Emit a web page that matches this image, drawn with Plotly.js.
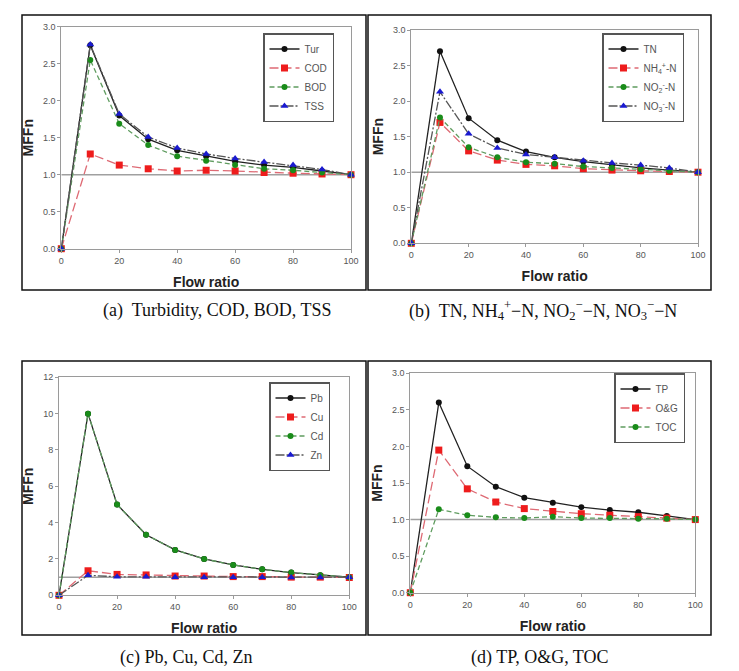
<!DOCTYPE html>
<html>
<head>
<meta charset="utf-8">
<script src="https://cdn.plot.ly/plotly-3.0.1.min.js"></script>
<style>
  html, body { margin: 0; padding: 0; background: #fff; }
  #chart { width: 739px; height: 671px; }
</style>
</head>
<body>
<div id="chart"></div>
<script>
// ---------- DATA ----------
const flowRatio = [0, 10, 20, 30, 40, 50, 60, 70, 80, 90, 100];

// (a)
const tur = [0, 2.75, 1.80, 1.48, 1.33, 1.25, 1.18, 1.13, 1.10, 1.05, 1.00];
const cod = [0, 1.28, 1.13, 1.08, 1.05, 1.06, 1.05, 1.03, 1.02, 1.01, 1.00];
const bod = [0, 2.55, 1.69, 1.40, 1.25, 1.19, 1.13, 1.08, 1.06, 1.03, 1.00];
const tss = [0, 2.76, 1.82, 1.51, 1.36, 1.28, 1.22, 1.17, 1.13, 1.07, 1.00];

// (b)
const tn  = [0, 2.70, 1.76, 1.45, 1.29, 1.21, 1.15, 1.10, 1.06, 1.03, 1.00];
const nh4 = [0, 1.70, 1.30, 1.17, 1.11, 1.09, 1.05, 1.03, 1.02, 1.01, 1.00];
const no2 = [0, 1.77, 1.35, 1.21, 1.14, 1.12, 1.08, 1.06, 1.04, 1.02, 1.00];
const no3 = [0, 2.13, 1.54, 1.34, 1.25, 1.21, 1.16, 1.13, 1.10, 1.06, 1.00];

// (c)
const pb = [0, 10.0, 5.00, 3.33, 2.50, 2.00, 1.67, 1.43, 1.25, 1.11, 1.00];
const cu = [0, 1.35, 1.15, 1.12, 1.06, 1.06, 1.03, 1.03, 1.00, 1.00, 0.98];
const cd = [0, 10.0, 5.00, 3.33, 2.50, 2.00, 1.67, 1.43, 1.25, 1.11, 1.00];
const zn = [0, 1.10, 1.02, 1.02, 1.00, 1.00, 1.00, 1.00, 0.98, 0.98, 1.00];

// (d)
const tp  = [0, 2.60, 1.73, 1.45, 1.30, 1.23, 1.17, 1.13, 1.10, 1.05, 1.00];
const og  = [0, 1.95, 1.42, 1.24, 1.15, 1.11, 1.08, 1.06, 1.04, 1.02, 1.00];
const toc = [0, 1.14, 1.06, 1.03, 1.02, 1.04, 1.02, 1.02, 1.01, 1.01, 1.00];

const namesA = ['Tur', 'COD', 'BOD', 'TSS'];
const namesB = ['TN', 'NH<sub>4</sub><sup>+</sup>-N', 'NO<sub>2</sub><sup>-</sup>-N', 'NO<sub>3</sub><sup>-</sup>-N'];
const namesC = ['Pb', 'Cu', 'Cd', 'Zn'];
const namesD = ['TP', 'O&amp;G', 'TOC'];

const captions = [
  '(a)  Turbidity, COD, BOD, TSS',
  '(b)  TN, NH<sub>4</sub><sup>+</sup>\u2212N, NO<sub>2</sub><sup>\u2212</sup>\u2212N, NO<sub>3</sub><sup>\u2212</sup>\u2212N',
  '(c) Pb, Cu, Cd, Zn',
  '(d) TP, O&amp;G, TOC'
];

const refLevel = 1.0;
const xTitle = 'Flow ratio';
const yTitle = 'MFFn';

// ---------- STYLES ----------
const styles = [
  { line: { color: '#222222', width: 1.3, dash: 'solid' },       marker: { symbol: 'circle', color: '#111111', size: 6 } },
  { line: { color: '#de6a74', width: 1.3, dash: '9px,4px' },     marker: { symbol: 'square', color: '#ee1c1c', size: 7 } },
  { line: { color: '#5f9c5f', width: 1.3, dash: '5px,3px' },     marker: { symbol: 'circle', color: '#1a8c1a', size: 6 } },
  { line: { color: '#555555', width: 1.3, dash: '9px,2px,2px,2px' }, marker: { symbol: 'triangle-up', color: '#1a1ad0', size: 7 } }
];

const panels = [
  { series: [tur, cod, bod, tss], names: namesA, yMax: 3, dtick: 0.5, fmt: '.1f',
    dom: { x: [61.3, 351], y: [26.7, 248.7] }, leg: [263, 33] },
  { series: [tn, nh4, no2, no3], names: namesB, yMax: 3, dtick: 0.5, fmt: '.1f',
    dom: { x: [411.3, 698], y: [30, 243.3] }, leg: [602, 33] },
  { series: [pb, cu, cd, zn], names: namesC, yMax: 12, dtick: 2, fmt: 'd',
    dom: { x: [59, 349.3], y: [377.3, 595.3] }, leg: [269, 382] },
  { series: [tp, og, toc], names: namesD, yMax: 3, dtick: 0.5, fmt: '.1f',
    dom: { x: [410.3, 695.3], y: [373.3, 592.7] }, leg: [614, 373] }
];

const W = 739, H = 671;
const px = v => v / W;
const py = v => 1 - v / H;

const traces = [];
const layout = {
  width: W, height: H,
  margin: { l: 0, r: 0, t: 0, b: 0 },
  paper_bgcolor: '#ffffff',
  plot_bgcolor: '#ffffff',
  showlegend: true,
  font: { family: 'Liberation Sans, Arial, sans-serif', color: '#444' },
  shapes: [],
  annotations: []
};

panels.forEach((p, i) => {
  const n = i + 1;
  const xa = n === 1 ? 'x' : 'x' + n;
  const ya = n === 1 ? 'y' : 'y' + n;
  const legName = n === 1 ? 'legend' : 'legend' + n;

  p.series.forEach((ys, k) => {
    traces.push({
      type: 'scatter', mode: 'lines+markers',
      x: flowRatio, y: ys, name: p.names[k],
      xaxis: xa, yaxis: ya, legend: legName,
      line: styles[k].line, marker: styles[k].marker,
      cliponaxis: false
    });
  });

  const axCommon = {
    showgrid: false, zeroline: false,
    showline: true, mirror: true, linecolor: '#9a9a9a', linewidth: 1,
    ticks: 'outside', ticklen: 3, tickcolor: '#9a9a9a', tickwidth: 1,
    tickfont: { size: 9, color: '#555', family: 'Liberation Sans, Arial, sans-serif' }
  };
  layout['xaxis' + (n === 1 ? '' : n)] = Object.assign({}, axCommon, {
    domain: [px(p.dom.x[0]), px(p.dom.x[1])],
    anchor: ya, range: [0, 100], dtick: 20, tick0: 0,
    title: { text: '<b>' + xTitle + '</b>', font: { size: 14, color: '#222' }, standoff: 12 }
  });
  layout['yaxis' + (n === 1 ? '' : n)] = Object.assign({}, axCommon, {
    domain: [py(p.dom.y[1]), py(p.dom.y[0])],
    anchor: xa, range: [0, p.yMax], dtick: p.dtick, tick0: 0, tickformat: p.fmt,
    title: { text: '<b>' + yTitle + '</b>', font: { size: 14, color: '#222' }, standoff: 6 }
  });

  layout[legName] = {
    x: px(p.leg[0]), y: py(p.leg[1]), xanchor: 'left', yanchor: 'top',
    xref: 'paper', yref: 'paper',
    bgcolor: '#ffffff', bordercolor: '#555', borderwidth: 1.5,
    font: { size: 10, color: '#555', family: 'Liberation Sans, Arial, sans-serif' },
    tracegroupgap: 0, itemwidth: 30
  };

  // reference line at MFFn = 1
  layout.shapes.push({
    type: 'line', xref: xa, yref: ya, x0: 0, x1: 100, y0: refLevel, y1: refLevel,
    line: { color: '#a0a0a0', width: 1.5 }, layer: 'below'
  });
});

// outer panel frames
const frames = [[22, 15, 366, 290], [368, 15, 711, 290], [22, 361, 366, 635], [368, 361, 711, 635]];
frames.forEach(f => {
  layout.shapes.push({
    type: 'rect', xref: 'paper', yref: 'paper',
    x0: px(f[0]), x1: px(f[2]), y0: py(f[3]), y1: py(f[1]),
    line: { color: '#111', width: 1.5 }, fillcolor: 'rgba(0,0,0,0)', layer: 'below'
  });
});

// captions
const capPos = [[217, 310], [543, 310], [186, 657], [540, 657]];
captions.forEach((c, i) => {
  layout.annotations.push({
    xref: 'paper', yref: 'paper', x: px(capPos[i][0]), y: py(capPos[i][1]),
    xanchor: 'center', yanchor: 'middle', showarrow: false, text: c,
    font: { family: 'Liberation Serif, DejaVu Serif, serif', size: 18, color: '#111' }
  });
});

Plotly.newPlot('chart', traces, layout, { displayModeBar: false, staticPlot: true });
</script>
</body>
</html>
